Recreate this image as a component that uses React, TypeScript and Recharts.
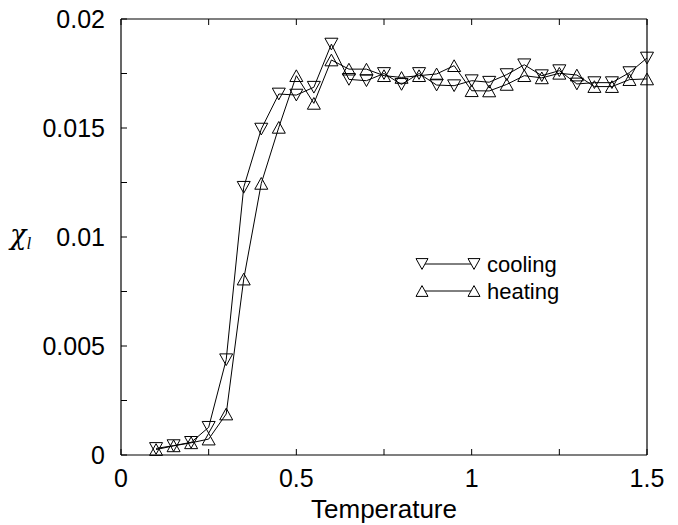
import { Legend, Line, LineChart, XAxis, YAxis } from 'recharts'

const temps = [0.1, 0.15, 0.2, 0.25, 0.3, 0.35, 0.4, 0.45, 0.5, 0.55, 0.6, 0.65, 0.7, 0.75, 0.8, 0.85, 0.9, 0.95, 1.0, 1.05, 1.1, 1.15, 1.2, 1.25, 1.3, 1.35, 1.4, 1.45, 1.5]

const cooling = [0.0003, 0.00043, 0.00058, 0.00127, 0.00437, 0.01228, 0.01495, 0.01656, 0.01651, 0.01687, 0.01885, 0.01723, 0.01717, 0.0175, 0.017, 0.0175, 0.01697, 0.01694, 0.01717, 0.0171, 0.01745, 0.0179, 0.0174, 0.01763, 0.01702, 0.01708, 0.01708, 0.01754, 0.01821]

const heating = [0.00025, 0.00042, 0.00056, 0.00073, 0.00188, 0.00807, 0.01246, 0.01503, 0.0174, 0.01613, 0.01812, 0.0177, 0.0177, 0.0174, 0.01732, 0.0174, 0.01748, 0.01786, 0.01671, 0.0167, 0.017, 0.0174, 0.0173, 0.01751, 0.01743, 0.0169, 0.0169, 0.01722, 0.01725]

const xTicks = [0, 0.25, 0.5, 0.75, 1, 1.25, 1.5]
const xTickLabels = ['0', '', '0.5', '', '1', '', '1.5']
const yTicks = [0, 0.0025, 0.005, 0.0075, 0.01, 0.0125, 0.015, 0.0175, 0.02]
const yTickLabels = ['0', '', '0.005', '', '0.01', '', '0.015', '', '0.02']

const data = temps.map((t, i) => ({ t, cooling: cooling[i], heating: heating[i] }))

const FONT = '"Liberation Sans", Arial, Helvetica, sans-serif'
const TICK = 6

function triDown(cx: number, cy: number, s = 6.5) {
  return `M${cx - s},${cy - s * 0.9}L${cx + s},${cy - s * 0.9}L${cx},${cy + s * 0.9}Z`
}

function triUp(cx: number, cy: number, s = 6.5) {
  return `M${cx},${cy - s * 0.9}L${cx + s},${cy + s * 0.9}L${cx - s},${cy + s * 0.9}Z`
}

function DownDot(props: any) {
  const { cx, cy, index } = props
  if (cx == null || cy == null) return <g key={index} />
  return <path key={index} d={triDown(cx, cy)} fill="none" stroke="#000" strokeWidth={1} />
}

function UpDot(props: any) {
  const { cx, cy, index } = props
  if (cx == null || cy == null) return <g key={index} />
  return <path key={index} d={triUp(cx, cy)} fill="none" stroke="#000" strokeWidth={1} />
}

function BottomTick({ x, y, index }: any) {
  const label = xTickLabels[index] ?? ''
  return (
    <g>
      <line x1={x} x2={x} y1={y} y2={y - TICK} stroke="#000" />
      {label && (
        <text x={x} y={y + 23} dy="0.35em" textAnchor="middle" fontSize={25} fill="#000">{label}</text>
      )}
    </g>
  )
}

function TopTick({ x, y }: any) {
  return <line x1={x} x2={x} y1={y} y2={y + TICK} stroke="#000" />
}

function LeftTick({ x, y, index }: any) {
  const label = yTickLabels[index] ?? ''
  return (
    <g>
      <line x1={x} x2={x + TICK} y1={y} y2={y} stroke="#000" />
      {label && (
        <text x={x - 16} y={y} dy="0.35em" textAnchor="end" fontSize={25} fill="#000">{label}</text>
      )}
    </g>
  )
}

function RightTick({ x, y }: any) {
  return <line x1={x} x2={x - TICK} y1={y} y2={y} stroke="#000" />
}

function ChiLabel() {
  return (
    <text x={10} y={244} fill="#000">
      <tspan fontFamily='"DejaVu Serif", "Liberation Serif", serif' fontStyle="italic" fontSize={27}>χ</tspan>
      <tspan fontFamily='"Liberation Serif", serif' fontStyle="italic" fontSize={17} dy={5}>l</tspan>
    </text>
  )
}

function LegendBox() {
  const rows = [
    { name: 'cooling', up: false, y: 10 },
    { name: 'heating', up: true, y: 37 },
  ]
  return (
    <svg width={140} height={50} style={{ overflow: 'visible' }}>
      {rows.map((r) => (
        <g key={r.name}>
          <line x1={12} x2={64} y1={r.y} y2={r.y} stroke="#000" />
          <path d={r.up ? triUp(12, r.y, 6) : triDown(12, r.y, 6)} fill="#fff" stroke="#000" />
          <path d={r.up ? triUp(64, r.y, 6) : triDown(64, r.y, 6)} fill="#fff" stroke="#000" />
          <text x={77} y={r.y} dy="0.35em" fontSize={22} fontFamily={FONT} fill="#000">{r.name}</text>
        </g>
      ))}
    </svg>
  )
}

const axisLine = { stroke: '#000', strokeWidth: 1.2 }

export default function App() {
  return (
    <div style={{ position: 'absolute', left: 0, top: 0, width: 678, height: 525, background: '#fff' }}>
      <LineChart
        width={678}
        height={525}
        data={data}
        margin={{ top: 18, right: 30, bottom: 69, left: 120 }}
        style={{ fontFamily: FONT }}
      >
        <XAxis
          dataKey="t"
          type="number"
          domain={[0, 1.5]}
          ticks={xTicks}
          interval={0}
          height={1}
          tickSize={0}
          tickMargin={0}
          tickLine={false}
          axisLine={axisLine}
          tick={<BottomTick />}
          label={{ value: 'Temperature', position: 'insideBottom', offset: -62, fontSize: 26, fill: '#000' }}
        />
        <XAxis
          xAxisId="top"
          orientation="top"
          dataKey="t"
          type="number"
          domain={[0, 1.5]}
          ticks={xTicks}
          interval={0}
          height={1}
          tickSize={0}
          tickMargin={0}
          tickLine={false}
          axisLine={axisLine}
          tick={<TopTick />}
        />
        <YAxis
          type="number"
          domain={[0, 0.02]}
          ticks={yTicks}
          interval={0}
          width={1}
          tickSize={0}
          tickMargin={0}
          tickLine={false}
          axisLine={axisLine}
          tick={<LeftTick />}
          label={{ content: <ChiLabel /> }}
        />
        <YAxis
          yAxisId="right"
          orientation="right"
          type="number"
          domain={[0, 0.02]}
          ticks={yTicks}
          interval={0}
          width={1}
          tickSize={0}
          tickMargin={0}
          tickLine={false}
          axisLine={axisLine}
          tick={<RightTick />}
        />
        <Legend
          layout="horizontal"
          verticalAlign="middle"
          align="center"
          wrapperStyle={{ position: 'absolute', left: 410, top: 254, width: 150, height: 50 }}
          content={<LegendBox />}
        />
        <Line
          dataKey="cooling"
          name="cooling"
          stroke="#000"
          strokeWidth={1}
          dot={DownDot}
          activeDot={false}
          isAnimationActive={false}
        />
        <Line
          dataKey="heating"
          name="heating"
          stroke="#000"
          strokeWidth={1}
          dot={UpDot}
          activeDot={false}
          isAnimationActive={false}
        />
      </LineChart>
    </div>
  )
}
